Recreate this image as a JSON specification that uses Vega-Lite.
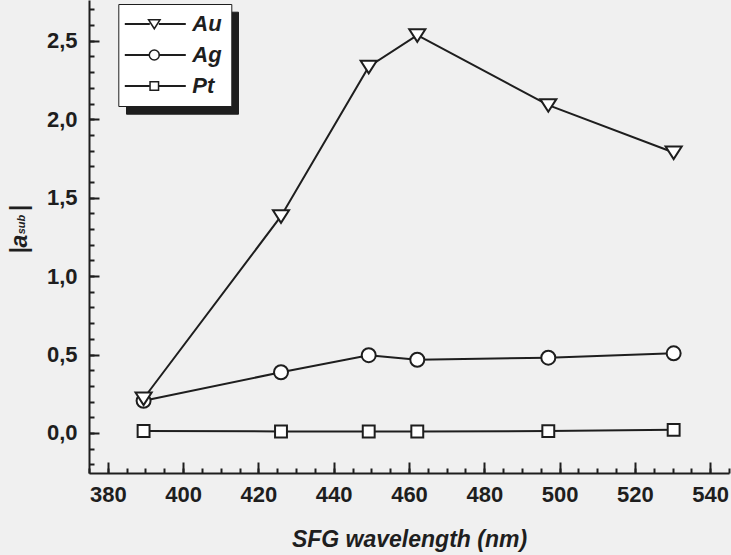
{
  "$schema": "https://vega.github.io/schema/vega-lite/v6.json",
  "width": 640,
  "height": 473,
  "autosize": {"type": "none"},
  "padding": {"left": 89, "top": 0, "right": 2, "bottom": 82},
  "background": "#f0f0f0",
  "config": {
    "view": {"stroke": null},
    "font": "Liberation Sans",
    "axis": {
      "grid": false,
      "domainColor": "#1e1e1e",
      "domainWidth": 2,
      "tickColor": "#1e1e1e",
      "tickWidth": 2,
      "labelFont": "Liberation Sans",
      "labelFontSize": 22,
      "labelFontWeight": "bold",
      "labelColor": "#1e1e1e",
      "titleFont": "Liberation Sans",
      "titleFontSize": 23,
      "titleFontWeight": "bold",
      "titleFontStyle": "italic",
      "titleColor": "#1e1e1e"
    },
    "legend": {
      "padding": 9,
      "rowPadding": 9,
      "direction": "vertical",
      "labelFont": "Liberation Sans",
      "labelFontSize": 22,
      "labelFontStyle": "italic",
      "labelFontWeight": "bold",
      "labelColor": "#1e1e1e",
      "symbolOffset": 16,
      "labelOffset": 27
    }
  },
  "data": {
    "values": [
      {"series": "Pt", "x": 389.5, "y": 0.013},
      {"series": "Pt", "x": 426.0, "y": 0.01},
      {"series": "Pt", "x": 449.3, "y": 0.01},
      {"series": "Pt", "x": 462.2, "y": 0.01},
      {"series": "Pt", "x": 497.0, "y": 0.012},
      {"series": "Pt", "x": 530.3, "y": 0.02},
      {"series": "Ag", "x": 389.5, "y": 0.205},
      {"series": "Ag", "x": 426.0, "y": 0.387},
      {"series": "Ag", "x": 449.3, "y": 0.496},
      {"series": "Ag", "x": 462.2, "y": 0.467},
      {"series": "Ag", "x": 497.0, "y": 0.48},
      {"series": "Ag", "x": 530.3, "y": 0.508},
      {"series": "Au", "x": 389.5, "y": 0.22},
      {"series": "Au", "x": 426.0, "y": 1.382},
      {"series": "Au", "x": 449.3, "y": 2.335},
      {"series": "Au", "x": 462.2, "y": 2.536},
      {"series": "Au", "x": 497.0, "y": 2.09},
      {"series": "Au", "x": 530.3, "y": 1.788}
    ]
  },
  "layer": [
    {
      "mark": {"type": "point", "opacity": 0},
      "encoding": {
        "x": {
          "field": "x", "type": "quantitative",
          "scale": {"domain": [375, 545], "nice": false, "zero": false},
          "axis": {
            "orient": "bottom",
            "values": [375,380,385,390,395,400,405,410,415,420,425,430,435,440,445,450,455,460,465,470,475,480,485,490,495,500,505,510,515,520,525,530,535,540,545],
            "tickSize": -5, "labels": false, "domain": false, "title": null
          }
        },
        "y": {
          "field": "y", "type": "quantitative",
          "scale": {"domain": [-0.255, 2.76], "nice": false, "zero": false},
          "axis": {
            "orient": "left",
            "values": [-0.2,-0.1,0,0.1,0.2,0.3,0.4,0.5,0.6,0.7,0.8,0.9,1,1.1,1.2,1.3,1.4,1.5,1.6,1.7,1.8,1.9,2,2.1,2.2,2.3,2.4,2.5,2.6,2.7],
            "tickSize": -5, "labels": false, "domain": false,
            "title": "sub", "titleFontSize": 11, "titleX": -65, "titleY": 224,
            "titleAngle": 270, "titleAlign": "center", "titleBaseline": "alphabetic"
          }
        },
        "size": {
          "field": "series", "type": "nominal",
          "scale": {"range": [100, 100]},
          "legend": {
            "title": null, "orient": "none", "legendX": 37, "legendY": 11.7,
            "fillColor": "#1e1e1e", "strokeColor": "#1e1e1e",
            "labelExpr": "''",
            "symbolType": "M-1,-2.2H13.4V2.2H-1Z",
            "symbolStrokeWidth": 0,
            "symbolOpacity": 0,
            "encode": {"legend": {"strokeWidth": {"value": 2}}}
          }
        }
      }
    },
    {
      "mark": {"type": "line", "color": "#1e1e1e", "strokeWidth": 2},
      "encoding": {
        "x": {
          "field": "x", "type": "quantitative",
          "axis": {
            "orient": "bottom",
            "values": [380,400,420,440,460,480,500,520,540],
            "tickSize": -11, "labelPadding": 22,
            "title": "SFG wavelength (nm)", "titleX": 320, "titleY": 73,
            "titleAlign": "center", "titleBaseline": "alphabetic"
          }
        },
        "y": {
          "field": "y", "type": "quantitative",
          "axis": {
            "orient": "left",
            "values": [0, 0.5, 1, 1.5, 2, 2.5],
            "tickSize": -10, "labelPadding": 22,
            "labelExpr": "replace(format(datum.value, '.1f'), '.', ',')",
            "title": "|a\u2003|", "titleX": -63, "titleY": 229,
            "titleAngle": 270, "titleAlign": "center", "titleBaseline": "alphabetic"
          }
        },
        "detail": {"field": "series", "type": "nominal"}
      }
    },
    {
      "mark": {"type": "point", "fill": "white", "stroke": "#1e1e1e", "strokeWidth": 2, "opacity": 1, "size": 196},
      "encoding": {
        "x": {"field": "x", "type": "quantitative", "axis": null},
        "y": {"field": "y", "type": "quantitative", "axis": null},
        "shape": {
          "field": "series", "type": "nominal", "sort": ["Au", "Ag", "Pt"],
          "scale": {"range": ["M-1.15,-0.85H1.15L0,0.95Z", "M-1,0A1,1,0,1,0,1,0A1,1,0,1,0,-1,0Z", "M-0.85,-0.85H0.85V0.85H-0.85Z"]},
          "legend": {
            "title": null, "orient": "none", "legendX": 29.3, "legendY": 4,
            "fillColor": "white", "strokeColor": "#1e1e1e",
            "encode": {"legend": {"strokeWidth": {"value": 2}}}
          }
        }
      }
    },
    {
      "transform": [{"filter": "false"}],
      "mark": {"type": "point", "color": "#1e1e1e", "stroke": "#1e1e1e"},
      "encoding": {
        "x": {"field": "x", "type": "quantitative", "axis": null},
        "y": {"field": "y", "type": "quantitative", "axis": null},
        "strokeWidth": {
          "field": "series", "type": "ordinal",
          "scale": {"domain": ["Au", "Ag", "Pt"], "range": [2, 2]},
          "legend": {
            "title": null, "orient": "top-left", "offset": 4,
            "symbolOffset": 41.3,
            "labelExpr": "' '",
            "symbolType": "M-5.9,0H-0.9M0.9,0H6.3",
            "symbolSize": 100,
            "symbolStrokeColor": "#1e1e1e",
            "symbolFillColor": "transparent",
            "symbolOpacity": 1
          }
        }
      }
    }
  ],
  "resolve": {
    "axis": {"x": "independent", "y": "independent"}
  }
}
